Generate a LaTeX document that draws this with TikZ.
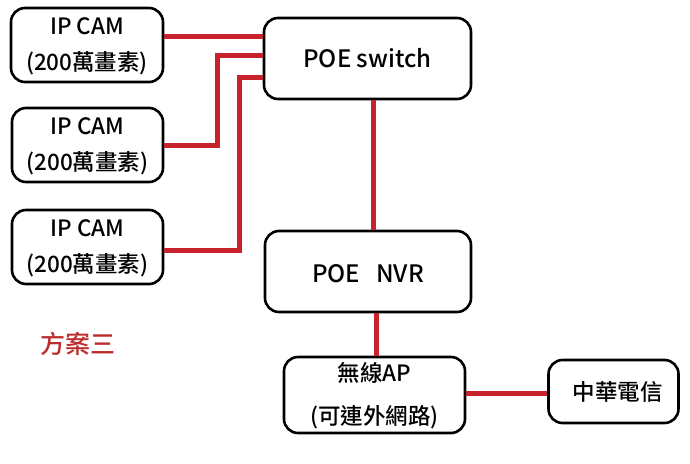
\documentclass[tikz,border=0pt]{standalone}
\usepackage{fontspec}
\setmainfont{Noto Sans CJK TC Medium}
\begin{document}
\begin{tikzpicture}[x=1pt,y=-1pt,
  box/.style={draw=black,line width=2.6pt,rounded corners=14pt,fill=white,inner sep=0pt},
  wire/.style={draw={rgb,255:red,200;green,35;blue,45},line width=5pt},
  lbl/.style={font=\fontsize{22.5}{27}\selectfont,align=center,inner sep=0pt}]
\path[use as bounding box] (0,0) rectangle (690,463);
% boxes
\node[box,minimum width=152pt,minimum height=74pt] (cam1) at (87,45) {};
\node[box,minimum width=151pt,minimum height=74pt] (cam2) at (87.5,145) {};
\node[box,minimum width=151pt,minimum height=74pt] (cam3) at (87.5,247) {};
\node[box,minimum width=207pt,minimum height=81pt] (sw) at (367.5,58.5) {};
\node[box,minimum width=206pt,minimum height=81pt] (nvr) at (368,271.5) {};
\node[box,minimum width=181pt,minimum height=76pt] (ap) at (374.5,395) {};
\node[box,minimum width=130pt,minimum height=63pt] (cht) at (613.5,391.5) {};
% texts
\node[lbl] (t1) at ([yshift=-1pt]cam1.center) {IP CAM\\[9pt](200萬畫素)};
\node[lbl] (t2) at ([yshift=-1pt]cam2.center) {IP CAM\\[9pt](200萬畫素)};
\node[lbl] (t3) at ([yshift=-1pt]cam3.center) {IP CAM\\[9pt](200萬畫素)};
\node[lbl,font=\fontsize{24}{28}\selectfont] (t4) at (sw.center) {POE switch};
\node[lbl,font=\fontsize{24}{28}\selectfont] (t5) at ([yshift=-2pt]nvr.center) {POE\ \ \ NVR};
\node[lbl] (t6) at ([yshift=-1pt]ap.center) {無線AP\\[16pt](可連外網路)};
\node[lbl] (t7) at ([xshift=4pt]cht.center) {中華電信};
\node[lbl,font=\fontsize{25}{30}\selectfont,text={rgb,255:red,190;green,45;blue,45}] (plan) at (78,344) {方案三};
% wires
\draw[wire] ([yshift=9pt]cam1.east) -- ([yshift=9pt]cam1.east -| sw.west);
\draw[wire] (cam2.east) -- ++(53,0) |- ([yshift=3.5pt]sw.west);
\draw[wire] ([yshift=-3pt]cam3.east) -- ++(75,0) |- ([yshift=-18.5pt]sw.west);
\draw[wire] ([xshift=6pt]sw.south) -- ([xshift=6pt]sw.south |- nvr.north);
\draw[wire] ([xshift=8pt]nvr.south) -- ([xshift=8pt]nvr.south |- ap.north);
\draw[wire] ([yshift=2pt]ap.east) -- ([yshift=2pt]ap.east -| cht.west);
\end{tikzpicture}
\end{document}
